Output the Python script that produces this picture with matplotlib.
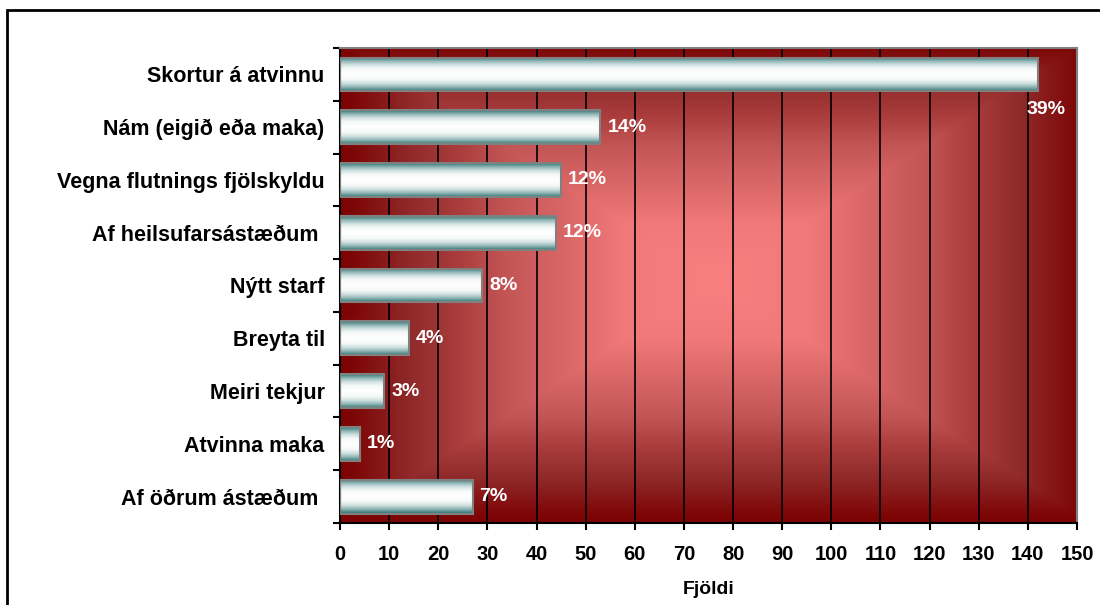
import numpy as np
import matplotlib.pyplot as plt
from matplotlib.patches import Rectangle
from matplotlib.colors import LinearSegmentedColormap

# Data
categories = ['Skortur á atvinnu', 'Nám (eigið eða maka)', 'Vegna flutnings fjölskyldu',
              'Af heilsufarsástæðum ', 'Nýtt starf', 'Breyta til', 'Meiri tekjur',
              'Atvinna maka', 'Af öðrum ástæðum ']
counts = [142, 53, 45, 44, 29, 14, 9, 4, 27]
pct_labels = ['39%', '14%', '12%', '12%', '8%', '4%', '3%', '1%', '7%']
x_ticks = list(range(0, 151, 10))

plt.rcParams['font.family'] = ['Liberation Sans', 'DejaVu Sans']
plt.rcParams['font.weight'] = 'bold'

fig = plt.figure(figsize=(11, 6.05), dpi=100)
ax = fig.add_axes([340 / 1100, 1 - 523 / 605, 737 / 1100, 475 / 605])

# rectangular "from centre" red gradient background
n = 400
gx, gy = np.meshgrid(np.linspace(-1, 1, n), np.linspace(-1, 1, n))
r = np.maximum(np.abs(gx - 0.02), np.abs(gy + 0.02))
r = np.clip(r, 0, 1)
bg_cmap = LinearSegmentedColormap.from_list('bg', [(0, '#fa8080'), (0.25, '#f07878'),
                                                    (0.57, '#c35555'), (0.7, '#aa3c3c'),
                                                    (0.82, '#922c2c'), (1, '#7c0404')])
ax.imshow(r, cmap=bg_cmap, extent=[0, 1, 0, 1], transform=ax.transAxes,
          aspect='auto', zorder=0, interpolation='bilinear')

ax.grid(axis='x', color='black', linewidth=1.2, zorder=1)
ax.set_axisbelow(True)

pos = np.arange(len(categories))
bars = ax.barh(pos, counts, height=0.64, color='none', edgecolor='#808080',
               linewidth=1.5, zorder=3)

# white / teal cylinder look for each bar
t = np.abs(np.linspace(-1, 1, 60))
bar_cmap = LinearSegmentedColormap.from_list('bar', [(0, '#ffffff'), (0.3, '#f6f9f9'),
                                                      (0.55, '#d0e0e0'), (0.75, '#98baba'),
                                                      (1, '#3a7e7e')])
for b in bars:
    x0, y0, w, h = b.get_x(), b.get_y(), b.get_width(), b.get_height()
    im = ax.imshow(t[:, None], cmap=bar_cmap, extent=[x0, x0 + w, y0 + h, y0],
                   aspect='auto', zorder=2, interpolation='bilinear')
    im.set_clip_path(b)

for i, (v, lab) in enumerate(zip(counts, pct_labels)):
    if i == 0:
        ax.annotate(lab, (v, i), xytext=(-8, -25), textcoords='offset points',
                    color='white', fontsize=14, fontweight='bold', va='center', ha='left')
    else:
        ax.annotate(lab, (v, i), xytext=(5, 0), textcoords='offset points',
                    color='white', fontsize=14, fontweight='bold', va='center', ha='left')

ax.set_xlim(0, 150)
ax.set_ylim(len(categories) - 0.5, -0.5)
ax.set_xticks(x_ticks)
ax.set_xticklabels([str(v) for v in x_ticks], fontsize=14.5, fontweight='bold')
ax.set_yticks(pos)
ax.set_yticklabels(categories, fontsize=15.5, fontweight='bold')
ax.set_yticks(np.arange(-0.5, len(categories)), minor=True)
ax.tick_params(axis='y', which='major', length=0, pad=11)
ax.tick_params(axis='y', which='minor', length=5, width=1.5, direction='out')
ax.tick_params(axis='x', length=5, width=1.5, direction='out', pad=11)
ax.set_xlabel('Fjöldi', fontsize=14, fontweight='bold', labelpad=12)

for s in ['left', 'bottom']:
    ax.spines[s].set_color('black')
    ax.spines[s].set_linewidth(1.5)
for s in ['top', 'right']:
    ax.spines[s].set_color('#808080')
    ax.spines[s].set_linewidth(1.5)

# outer frame
fig.patches.append(Rectangle((7 / 1100, -0.1), 1.2, 1 - 10 / 605 + 0.1,
                             transform=fig.transFigure, fill=False,
                             edgecolor='black', linewidth=2))

fig.savefig('out.png', dpi=100)
